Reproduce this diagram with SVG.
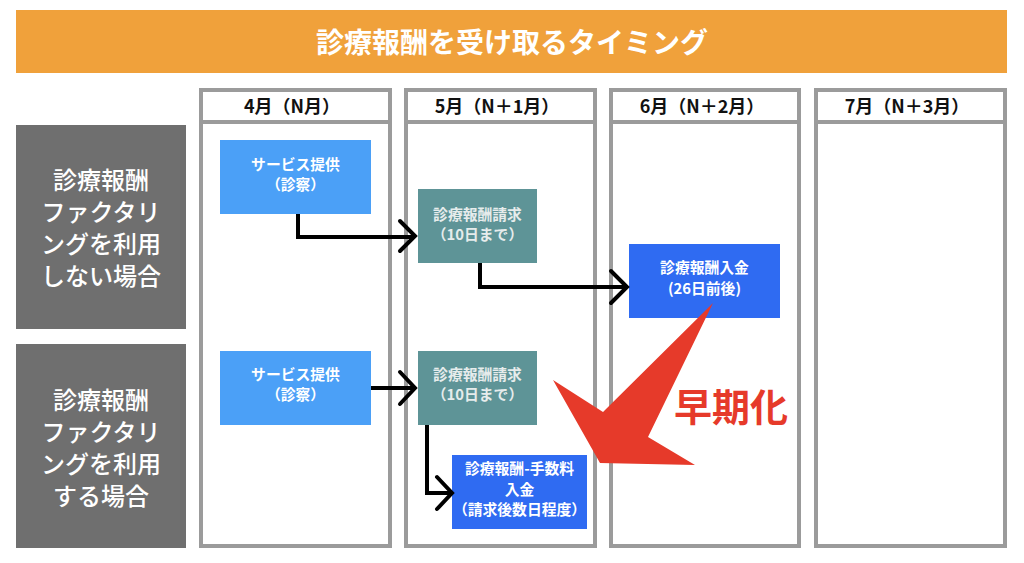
<svg xmlns="http://www.w3.org/2000/svg" width="1024" height="563" viewBox="0 0 1024 563">
<style>
.jp{font-family:"Noto Sans CJK JP","Noto Sans",sans-serif;}
.col{fill:#fff;stroke:#9b9b9b;stroke-width:4;}
.hdr{font-size:18px;font-weight:700;fill:#111;text-anchor:middle;}
.side{fill:#6f6f6f;}
.sidet{font-size:24px;font-weight:500;fill:#fff;text-anchor:middle;}
.nt{font-size:14.8px;font-weight:700;fill:#fff;text-anchor:middle;}
.tt{font-size:14.8px;font-weight:700;fill:#e6ecec;text-anchor:middle;}
.conn{fill:none;stroke:#000;stroke-width:4;stroke-linejoin:miter;}
.head{fill:none;stroke:#000;stroke-width:4;stroke-linecap:round;stroke-linejoin:miter;}
</style>
<rect width="1024" height="563" fill="#fff"/>
<g id="title">
<rect x="16" y="10" width="991" height="63" fill="#f0a13b"/>
<text class="jp" x="512" y="53" font-size="28" font-weight="700" fill="#fff" text-anchor="middle">診療報酬を受け取るタイミング</text>
</g>
<g id="col-apr">
<rect class="col" x="201" y="90" width="189" height="456"/>
<line x1="201" y1="122" x2="390" y2="122" stroke="#9b9b9b" stroke-width="4"/>
<text class="jp hdr" x="292" y="113">4月（N月）</text>
</g>
<g id="col-may">
<rect class="col" x="406" y="90" width="189" height="456"/>
<line x1="406" y1="122" x2="595" y2="122" stroke="#9b9b9b" stroke-width="4"/>
<text class="jp hdr" x="497" y="113">5月（N＋1月）</text>
</g>
<g id="col-jun">
<rect class="col" x="611" y="90" width="188" height="456"/>
<line x1="611" y1="122" x2="799" y2="122" stroke="#9b9b9b" stroke-width="4"/>
<text class="jp hdr" x="702" y="113">6月（N＋2月）</text>
</g>
<g id="col-jul">
<rect class="col" x="816" y="90" width="189" height="456"/>
<line x1="816" y1="122" x2="1005" y2="122" stroke="#9b9b9b" stroke-width="4"/>
<text class="jp hdr" x="907" y="113">7月（N＋3月）</text>
</g>
<g id="side-without">
<rect class="side" x="16" y="125" width="170" height="204"/>
<text class="jp sidet" x="101" y="189">診療報酬</text>
<text class="jp sidet" x="101" y="221">ファクタリ</text>
<text class="jp sidet" x="101" y="253">ングを利用</text>
<text class="jp sidet" x="101" y="285">しない場合</text>
</g>
<g id="side-with">
<rect class="side" x="16" y="344" width="170" height="204"/>
<text class="jp sidet" x="101" y="409">診療報酬</text>
<text class="jp sidet" x="101" y="441">ファクタリ</text>
<text class="jp sidet" x="101" y="473">ングを利用</text>
<text class="jp sidet" x="101" y="505">する場合</text>
</g>
<g id="n-service1">
<rect x="220" y="140" width="151" height="74" fill="#4ba0f7"/>
<text class="jp nt" x="295.5" y="170">サービス提供</text>
<text class="jp nt" x="295.5" y="190">（診察）</text>
</g>
<g id="n-claim1">
<rect x="418" y="189" width="119" height="74" fill="#5e9497"/>
<text class="jp tt" x="477.5" y="220">診療報酬請求</text>
<text class="jp tt" x="477.5" y="240">（10日まで）</text>
</g>
<g id="n-payment1">
<rect x="629" y="244" width="151" height="74" fill="#2f6bf2"/>
<text class="jp nt" x="704.5" y="273">診療報酬入金</text>
<text class="jp nt" x="704.5" y="294">(26日前後)</text>
</g>
<g id="n-service2">
<rect x="220" y="351" width="151" height="74" fill="#4ba0f7"/>
<text class="jp nt" x="295.5" y="380">サービス提供</text>
<text class="jp nt" x="295.5" y="400">（診察）</text>
</g>
<g id="n-claim2">
<rect x="418" y="351" width="119" height="74" fill="#5e9497"/>
<text class="jp tt" x="477.5" y="380">診療報酬請求</text>
<text class="jp tt" x="477.5" y="400">（10日まで）</text>
</g>
<g id="n-payment2">
<rect x="452" y="455" width="135" height="74" fill="#2f6bf2"/>
<text class="jp nt" x="519.5" y="474">診療報酬-手数料</text>
<text class="jp nt" x="519.5" y="495">入金</text>
<text class="jp nt" x="519.5" y="515">（請求後数日程度）</text>
</g>
<g id="early">
<polygon points="713,303 648,437 695,465 600,463 553,380 603,412" fill="#e63a2a"/>
<text class="jp" x="731" y="421" font-size="38" font-weight="700" fill="#e63a2a" text-anchor="middle">早期化</text>
</g>
<g id="connectors">
<path class="conn" d="M298,214 V237 H413"/>
<polyline class="head" points="400,221 415,236 400,251"/>
<path class="conn" d="M480,263 V287 H625"/>
<polyline class="head" points="611,271 627,287 611,303"/>
<path class="conn" d="M371,388 H413"/>
<polyline class="head" points="400,372 415,388 400,404"/>
<path class="conn" d="M427,425 V493 H450"/>
<polyline class="head" points="437,477 452,493 437,509"/>
</g>
</svg>
